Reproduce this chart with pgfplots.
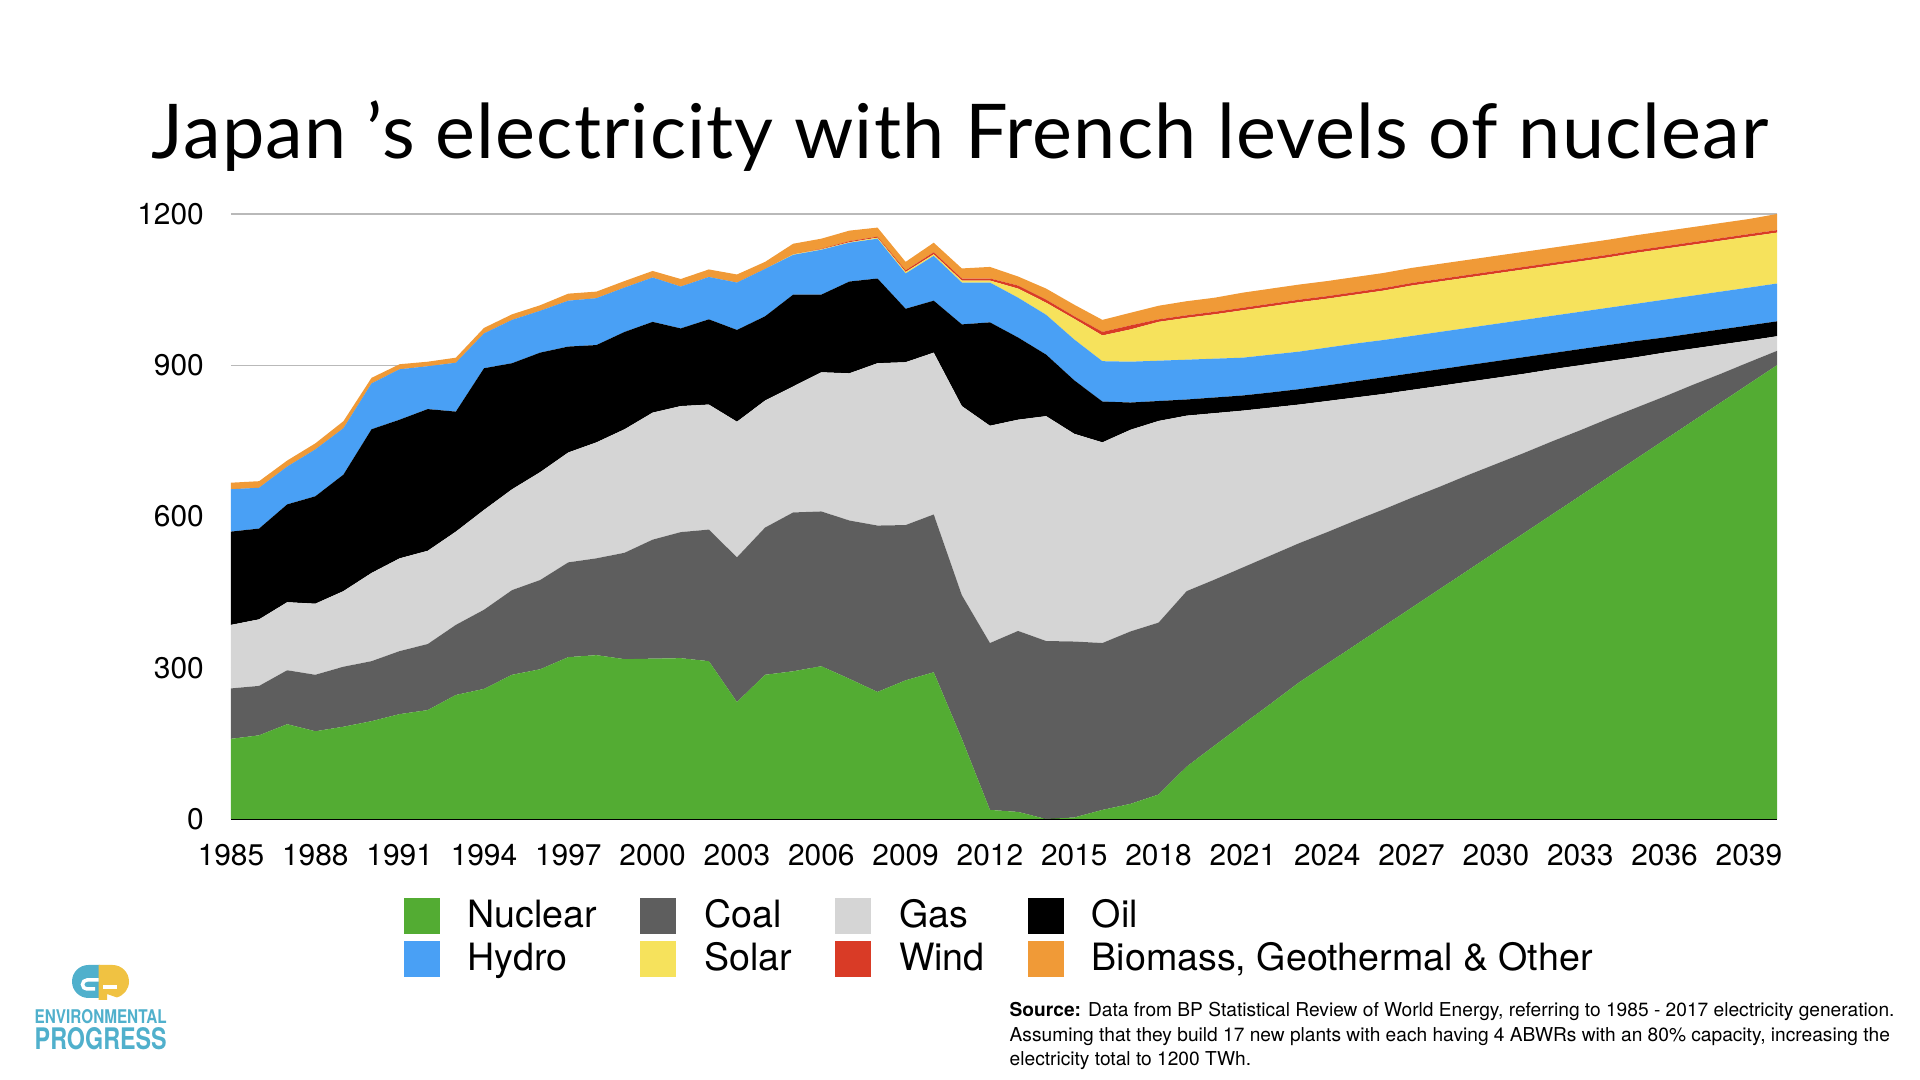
\documentclass[border=0pt]{standalone}
\usepackage{graphicx}
\usepackage{fontspec}
\setmainfont{TeX Gyre Heros}
\newfontfamily\titlefont[LetterSpace=1.5]{Lato}
\usepackage{pgfplots}
\pgfplotsset{compat=1.18}
\usepackage{pgfplotstable}

\definecolor{nuc}{RGB}{83,172,51}
\definecolor{coal}{RGB}{94,94,94}
\definecolor{gas}{RGB}{213,213,213}
\definecolor{oil}{RGB}{0,0,0}
\definecolor{hydro}{RGB}{73,160,245}
\definecolor{solar}{RGB}{246,226,92}
\definecolor{wind}{RGB}{217,59,38}
\definecolor{bio}{RGB}{240,154,55}
\definecolor{gridgray}{RGB}{185,185,185}
\definecolor{epblue}{RGB}{80,176,204}
\definecolor{epyellow}{RGB}{240,194,66}

\pgfplotstableread{
year nuc coal gas oil hydro solar wind bio
1985 159 100 126 185 84 0 0 13
1986 166 98 132 180 81 0 0 13
1987 188 107 135 194 75 0 0 12
1988 174 112 141 213 93 0 0 12
1989 183 119 150 231 92 0 0 14
1990 194 119 175 285 91 0 0 11
1991 208 125 184 275 100 0 0 10
1992 216 131 185 281 85 0 0 9
1993 246 139 185 238 97 0 0 10
1994 258 157 198 281 69 0 0 11
1995 286 168 200 250 86 0 0 11
1996 297 177 214 237 83 0 0 11
1997 321 188 218 210 91 0 0 14
1998 325 192 230 193 93 0 0 13
1999 317 211 245 193 88 0 0 13
2000 318 236 252 180 88 0 0 13
2001 319 250 250 154 83 0 0 15
2002 313 261 248 169 84 0 0 15
2003 232 287 269 182 94 0 0 16
2004 286 292 252 167 94 0 0 14
2005 293 315 250 182 79 1 0 21
2006 303 307 276 154 89 1 1 20
2007 278 314 292 182 77 1 2 21
2008 252 330 322 168 79 2 2 18
2009 275 308 323 106 70 3 3 17
2010 291 313 321 103 89 3 4 19
2011 159 285 375 162 83 4 4 20
2012 18 331 431 205 79 4 4 23
2013 14 359 419 163 79 18 6 18
2014 0 353 446 122 79 24 6 22
2015 3 349 412 106 81 41 5 23
2016 18 331 398 81 80 51 7 24
2017 30 342 400 54 81 64 8 25
2018 48.5 341 400 39.5 80 77 5 27
2019 104 348 348 32 79 83 5 28
2020 146 329 330 31 77 88 5 28
2021 188 311 311 30 75 94 5 30
2022 229 294 293 30 75 96 5 30
2023 271 276 275 30.5 74.5 98 5 30
2024 308 261 260 31 75 97 5 30
2025 345 247 244 32 75 97 5 30
2026 382 232 229 33 74 98 5 30
2027 419 218 214 33 74 100 5 30
2028 456 203 200 33 74 100 5 30
2029 493 189 185 33 74 100 5 30
2030 530 174 171 33 74 100 5 30
2031 567 159 157 33 74 100 5 30
2032 604 145 143 32 74 100 5 30
2033 641 130 129 32 74 100 5 30
2034 678 116 114 32 74 100 5 30
2035 715 101 100 32 74 101 5 30
2036 752 86 87 30 75 101 5 30
2037 789 72 72 30 75 101 5 30
2038 826 57 58 30 75 101 5 30
2039 863 43 43 30 75 101 5 30
2040 900 28.5 29 29.5 75 101 5 32
}\data

\begin{document}
\begin{tikzpicture}
\path[use as bounding box] (0,0) rectangle (19.2cm,10.8cm);
\node[anchor=base, inner sep=0pt, font=\titlefont\fontsize{21.5}{26}\selectfont] at (9.6cm,9.21cm) {Japan ’s electricity with French levels of nuclear};

\begin{axis}[
  at={(2.31cm,2.61cm)}, anchor=south west,
  scale only axis, width=15.46cm, height=6.05cm,
  xmin=1985, xmax=2040, ymin=0, ymax=1200,
  enlargelimits=false,
  xtick={1985,1988,...,2039}, ytick={0,300,...,1200},
  /pgf/number format/1000 sep={},
  /pgf/number format/assume math mode=true,
  ymajorgrids, grid style={draw=gridgray, line width=0.35pt},
  axis x line*=bottom, axis y line*=left,
  y axis line style={draw=none},
  x axis line style={draw=black, line width=0.4pt},
  major tick length=0pt,
  tick label style={font=\fontsize{8.5}{10}\selectfont},
  xticklabel style={anchor=north, inner sep=0pt, yshift=-0.25cm},
  yticklabel style={anchor=east, inner sep=0pt, xshift=-0.265cm},
  stack plots=y,
  legend columns=4,
  legend cell align=left,
  legend image code/.code={\fill[#1] (0cm,-0.18cm) rectangle (0.36cm,0.18cm);},
  legend style={at={(0.1113,-0.1300)}, anchor=north west, draw=none, fill=none,
    inner sep=0pt, font=\fontsize{10.7}{12}\selectfont,
    nodes={inner sep=0pt},
    column sep=0.28cm, row sep=2pt,
    /tikz/every even column/.append style={column sep=0.43cm}},
]
\addplot[fill=nuc, draw=none] table[x=year,y=nuc]{\data} \closedcycle;
\addplot[fill=coal, draw=none] table[x=year,y=coal]{\data} \closedcycle;
\addplot[fill=gas, draw=none] table[x=year,y=gas]{\data} \closedcycle;
\addplot[fill=oil, draw=none] table[x=year,y=oil]{\data} \closedcycle;
\addplot[fill=hydro, draw=none] table[x=year,y=hydro]{\data} \closedcycle;
\addplot[fill=solar, draw=none] table[x=year,y=solar]{\data} \closedcycle;
\addplot[fill=wind, draw=none] table[x=year,y=wind]{\data} \closedcycle;
\addplot[fill=bio, draw=none] table[x=year,y=bio]{\data} \closedcycle;
\legend{Nuclear, Coal, Gas, Oil, Hydro, Solar, Wind, {Biomass, Geothermal \& Other}}
\end{axis}

% logo
\fill[epblue] (1.0cm,1.15cm) -- (0.885cm,1.15cm) arc[start angle=90,end angle=270,radius=0.165cm] -- (1.0cm,0.82cm) -- cycle;
\fill[epyellow] (0.985cm,0.80cm) -- (0.985cm,1.15cm) -- (1.125cm,1.15cm) arc[start angle=90,end angle=-75,radius=0.165cm] -- (1.07cm,0.86cm) -- (1.07cm,0.80cm) -- cycle;
\draw[white, line width=0.035cm] (0.985cm,1.0cm) -- (0.87cm,1.0cm) arc[start angle=90,end angle=270,radius=0.045cm] -- (0.95cm,0.91cm);
\draw[white, line width=0.035cm] (1.03cm,0.93cm) -- (1.17cm,0.93cm);
\node[anchor=south west, inner sep=0pt, text=epblue] at (0.34cm,0.56cm) {\resizebox{1.32cm}{0.14cm}{\bfseries ENVIRONMENTAL}};
\node[anchor=south west, inner sep=0pt, text=epblue] at (0.34cm,0.29cm) {\resizebox{1.32cm}{0.22cm}{\bfseries PROGRESS}};

% source
\node[anchor=base west, inner sep=0pt, font=\fontsize{5.45}{7}\selectfont] at (10.09cm,0.63cm) {\textbf{Source:} Data from BP Statistical Review of World Energy, referring to 1985 - 2017 electricity generation.};
\node[anchor=base west, inner sep=0pt, font=\fontsize{5.45}{7}\selectfont] at (10.09cm,0.385cm) {Assuming that they build 17 new plants with each having 4 ABWRs with an 80\% capacity, increasing the};
\node[anchor=base west, inner sep=0pt, font=\fontsize{5.45}{7}\selectfont] at (10.09cm,0.14cm) {electricity total to 1200 TWh.};
\end{tikzpicture}
\end{document}
